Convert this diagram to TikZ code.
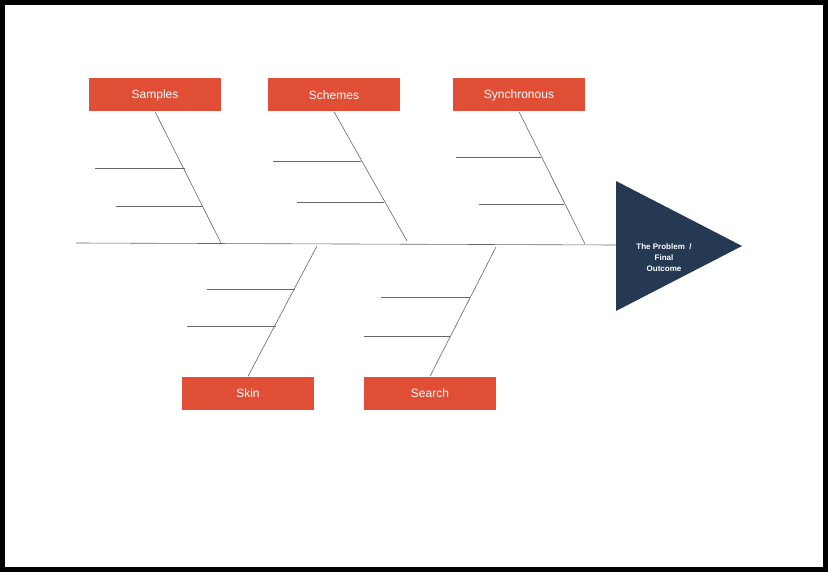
\documentclass[tikz,border=0pt]{standalone}
\usepackage{fontspec}
\setmainfont{Liberation Sans}
\usetikzlibrary{calc}
\definecolor{boxred}{HTML}{E04E36}
\definecolor{headblue}{HTML}{253A52}
\begin{document}
\begin{tikzpicture}[x=1pt, y=-1pt]
    % ================= 样式定义 =================
    \tikzset{
        cause/.style={fill=boxred, text=white, minimum width=132pt, minimum height=33pt, inner sep=0pt, font=\fontsize{12}{14}\selectfont},
        bone/.style={draw=gray!80!black, line width=0.6pt}
    }

    % 边框
    \fill[black] (0,0) rectangle (828,572);
    \fill[white] (5,5) rectangle (823,567);
    \useasboundingbox (0,0) rectangle (828,572);

    % ================= 主干与头部 =================
    \coordinate (tail) at (76,243);
    \coordinate (head) at (616,245);
    \draw[bone] (tail) -- (head);
    \fill[headblue] (616,181) -- (616,311) -- (742,246) -- cycle;
    \node[text=white, align=center, font=\fontsize{8}{11}\selectfont\bfseries] (problem) at (664,258)
        {The Problem~ /\\Final\\Outcome};

    % ================= 原因框 =================
    \node[cause] (samples) at (155,95) {Samples};
    \node[cause] (schemes) at (334,95) {Schemes};
    \node[cause] (sync)    at (519,95) {Synchronous};
    \node[cause] (skin)    at (248,393) {Skin};
    \node[cause] (search)  at (430,393) {Search};

    % ================= 斜骨 =================
    \coordinate (b1) at (221,243);
    \coordinate (b2) at (407,241);
    \coordinate (b3) at (585,244);
    \coordinate (b4) at (317,246);
    \coordinate (b5) at (496,247);
    \draw[bone] (samples.south) -- (b1);
    \draw[bone] (schemes.south) -- (b2);
    \draw[bone] (sync.south) -- (b3);
    \draw[bone] (skin.north) -- (b4);
    \draw[bone] (search.north) -- (b5);

    % ================= 小骨 =================
    \foreach \x/\y/\e in {95/168/185, 116/206/203, 273/161/361, 297/202/384,
                          456/157/541, 479/204/564, 207/289/295, 187/326/276,
                          381/297/470, 364/336/450} {
        \coordinate (r) at (\x,\y);
        \coordinate (s) at (\e,\y);
        \draw[bone] (r) -- (s);
    }
\end{tikzpicture}
\end{document}
